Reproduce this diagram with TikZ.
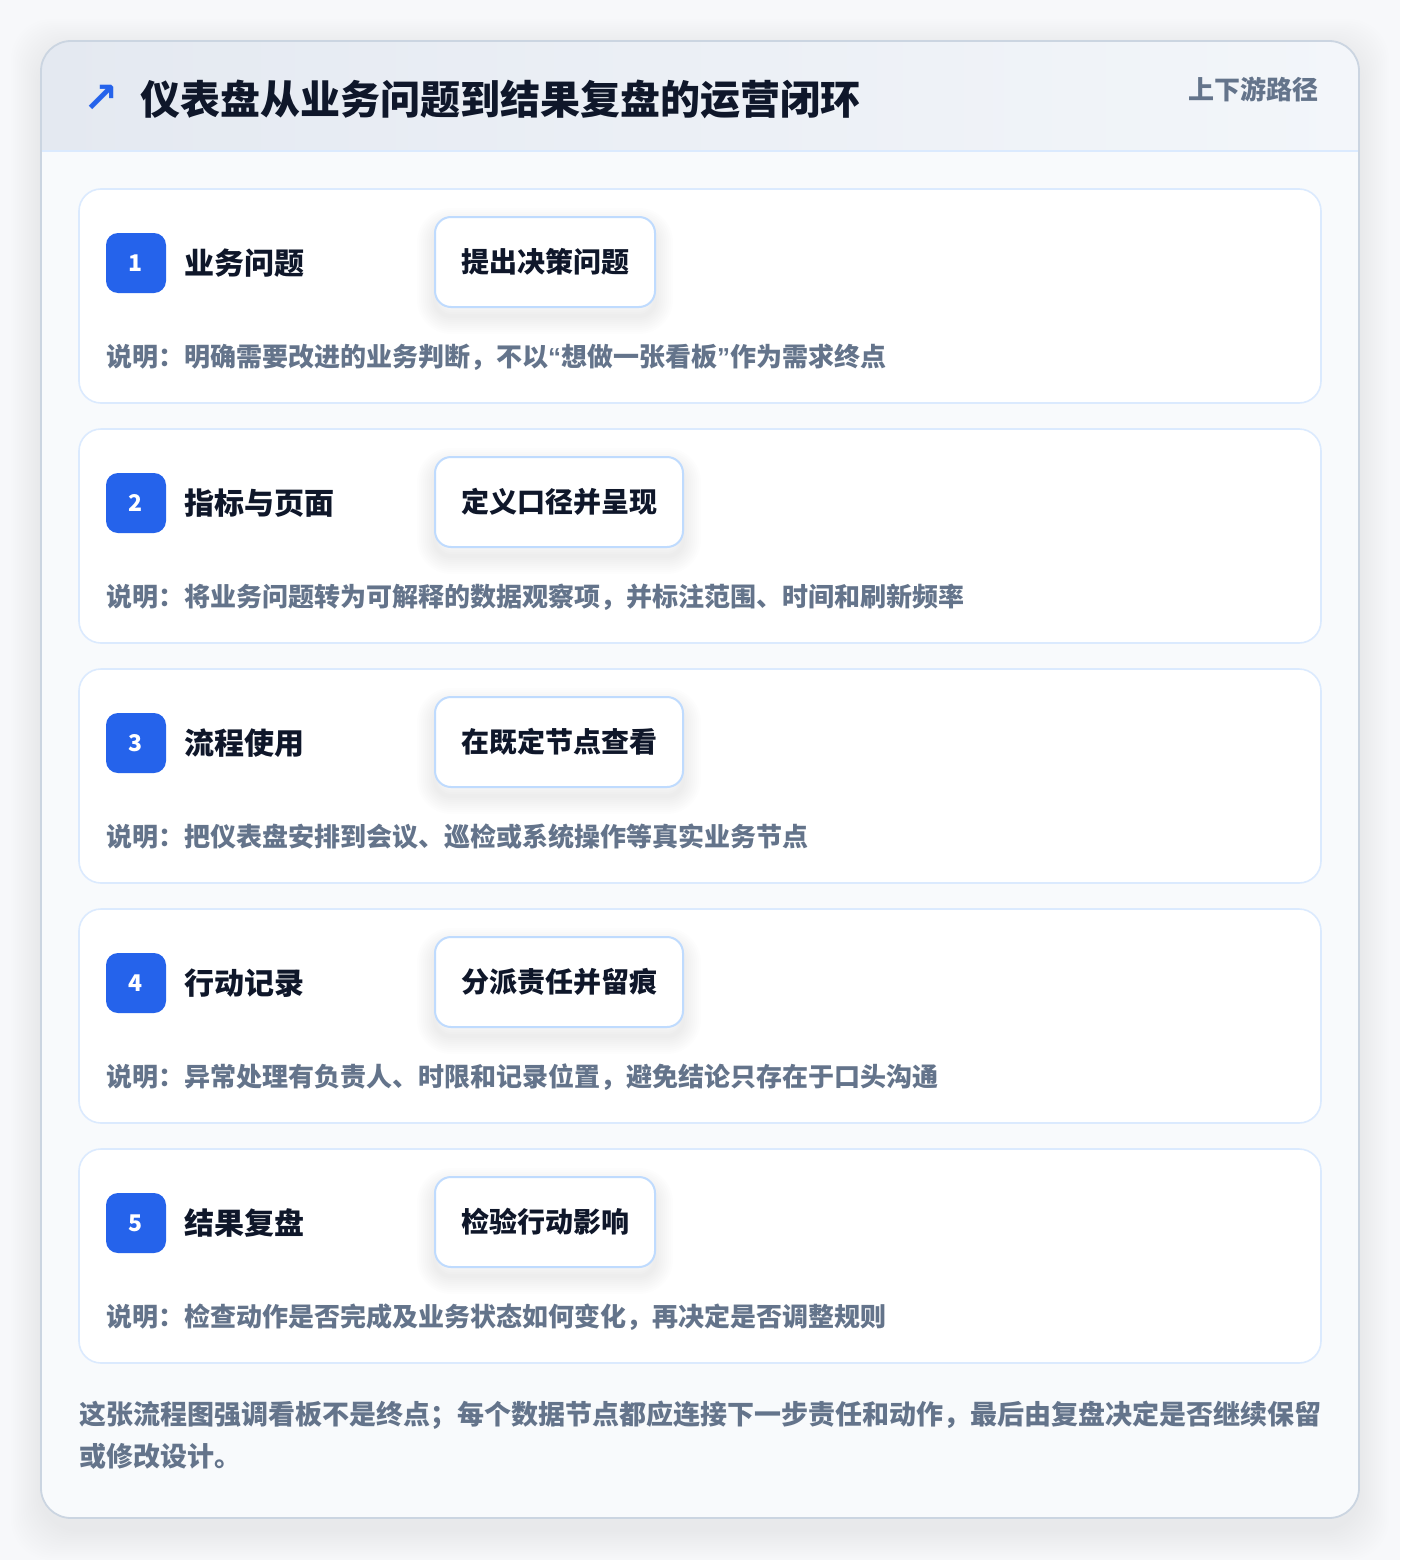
\documentclass[tikz,border=0pt]{standalone}
\usepackage{fontspec}
\setmainfont{Noto Sans CJK SC}
\newfontfamily\symfont{DejaVu Sans}
\newfontfamily\latinfont{Liberation Sans}
\definecolor{pagebg}{HTML}{F7F8FA}
\definecolor{cardborder}{HTML}{CBD5E1}
\definecolor{headL}{HTML}{E4E9F1}
\definecolor{headR}{HTML}{F3F6FA}
\definecolor{headline}{HTML}{DBEAFE}
\definecolor{bodybg}{HTML}{F8FAFC}
\definecolor{stepline}{HTML}{DBEAFE}
\definecolor{actline}{HTML}{BFDBFE}
\definecolor{badgeblue}{HTML}{2563EB}
\definecolor{ink}{HTML}{0F172A}
\definecolor{muted}{HTML}{64748B}
\newcommand{\myLQ}{{\latinfont\bfseries “}}
\newcommand{\myRQ}{{\latinfont\bfseries ”}}
\begin{document}
\begin{tikzpicture}[x=1pt,y=-1pt,
  every node/.style={inner sep=0pt,outer sep=0pt},
  stepcard/.style={draw=stepline,line width=1.6pt,fill=white,rounded corners=22pt,
    minimum width=1242pt,minimum height=214pt,anchor=north west},
  badge/.style={fill=badgeblue,rounded corners=12pt,minimum width=60pt,minimum height=60pt,
    text=white,font=\bfseries\fontsize{23}{27}\selectfont},
  steplabel/.style={anchor=west,text=ink,font=\bfseries\fontsize{30}{36}\selectfont},
  sh/.style={preaction={draw=black,draw opacity=0.007,line width=#1,transform canvas={yshift=-9pt}}},
  actbox/.style={anchor=west,draw=actline,line width=2pt,fill=white,rounded corners=16pt,
    inner xsep=26pt,minimum height=90pt,text=ink,font=\bfseries\fontsize{28}{34}\selectfont,
    sh=36pt,sh=32pt,sh=28pt,sh=24pt,sh=20pt,sh=16pt,sh=12pt,sh=8pt,sh=4pt},
  desc/.style={anchor=west,text=muted,font=\bfseries\fontsize{26}{31}\selectfont},
  foot/.style={anchor=west,text=muted,font=\bfseries\fontsize{27}{33}\selectfont}]
\useasboundingbox (0,0) rectangle (1400,1560);
\fill[pagebg] (0,0) rectangle (1400,1560);
% outer card shadow
\foreach \i in {2,4,...,30}
  \fill[black,opacity=0.005,rounded corners=40pt] (41-\i,49-\i) rectangle (1359+\i,1530+\i);
% outer card
\begin{scope}
  \clip[rounded corners=30pt] (41,41) rectangle (1359,1518);
  \fill[bodybg] (41,41) rectangle (1359,1518);
  \shade[left color=headL,right color=headR] (41,41) rectangle (1359,151);
  \draw[headline,line width=2pt] (41,151) -- (1359,151);
\end{scope}
\draw[cardborder,line width=1.8pt,rounded corners=30pt] (41,41) rectangle (1359,1518);
% header
\node[text=badgeblue,font=\symfont\bfseries\fontsize{42}{48}\selectfont] (icon) at (101,99) {↗};
\node[anchor=west,text=ink,font=\bfseries\fontsize{40}{48}\selectfont] (title) at (140,99) {仪表盘从业务问题到结果复盘的运营闭环};
\node[anchor=east,text=muted,font=\bfseries\fontsize{26}{31}\selectfont] (tag) at (1318,89) {上下游路径};
% steps
\foreach \n/\lab/\act/\dsc in {
  1/业务问题/提出决策问题/说明：明确需要改进的业务判断，不以\myLQ 想做一张看板\myRQ 作为需求终点,
  2/指标与页面/定义口径并呈现/说明：将业务问题转为可解释的数据观察项，并标注范围、时间和刷新频率,
  3/流程使用/在既定节点查看/说明：把仪表盘安排到会议、巡检或系统操作等真实业务节点,
  4/行动记录/分派责任并留痕/说明：异常处理有负责人、时限和记录位置，避免结论只存在于口头沟通,
  5/结果复盘/检验行动影响/说明：检查动作是否完成及业务状态如何变化，再决定是否调整规则}{
  \pgfmathsetmacro\yo{(\n-1)*240}
  \node[stepcard] (card\n) at (79,189+\yo) {};
  \node[badge] (badge\n) at (136,263+\yo) {\n};
  \node[steplabel] (label\n) at (184,263+\yo) {\lab};
  \node[actbox] (act\n) at (435,262+\yo) {\act};
  \node[desc] (desc\n) at (106,357+\yo) {\dsc};
}
% footer
\node[foot] (foot1) at (79,1415) {这张流程图强调看板不是终点；每个数据节点都应连接下一步责任和动作，最后由复盘决定是否继续保留};
\node[foot] (foot2) at (79,1456) {或修改设计。};
\end{tikzpicture}
\end{document}
